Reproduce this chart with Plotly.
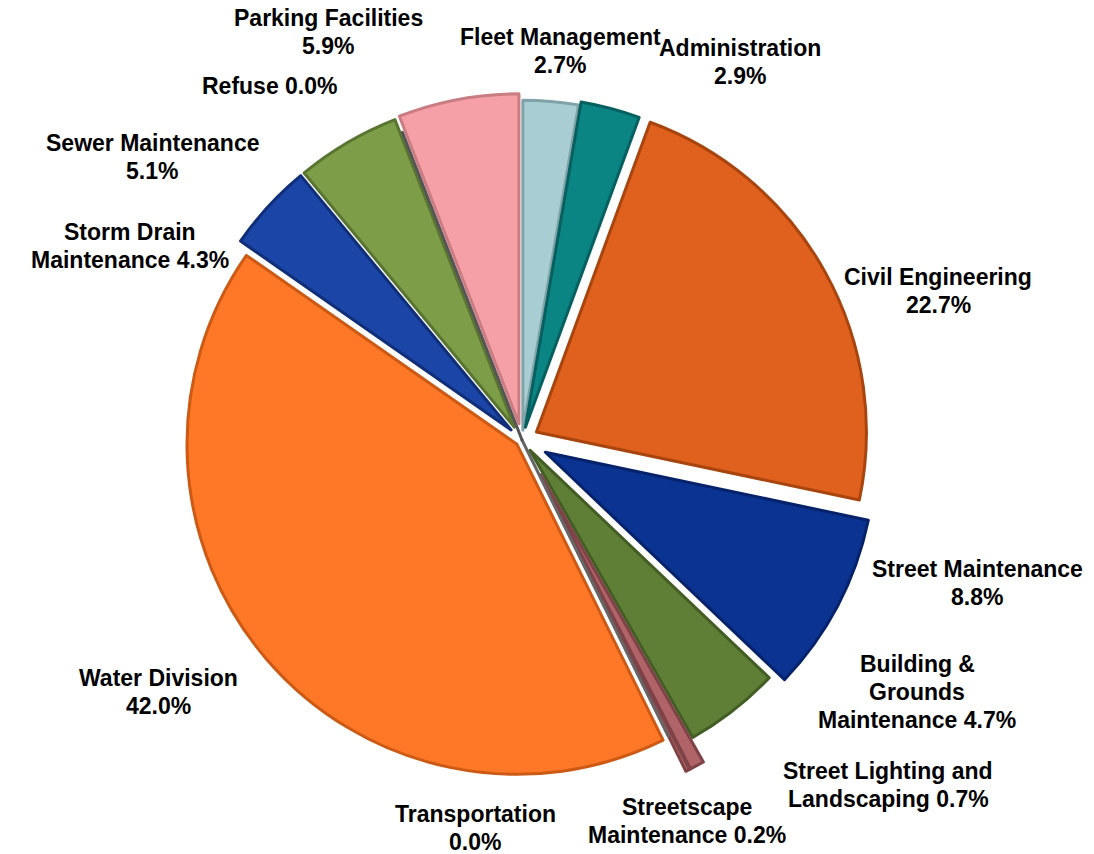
import plotly.graph_objects as go

# Department budget shares (percent), clockwise from 12 o'clock
departments = [
    "Fleet Management", "Administration", "Civil Engineering", "Street Maintenance",
    "Building & Grounds Maintenance", "Street Lighting and Landscaping",
    "Streetscape Maintenance", "Transportation", "Water Division",
    "Storm Drain Maintenance", "Sewer Maintenance", "Refuse", "Parking Facilities",
]
shares = [2.7, 2.9, 22.7, 8.8, 4.7, 0.7, 0.2, 0.0, 42.0, 4.3, 5.1, 0.0, 5.9]

# How each label is broken over lines (the value follows the last piece)
label_lines = [
    ["Fleet Management", ""], ["Administration", ""], ["Civil Engineering", ""],
    ["Street Maintenance", ""], ["Building &", "Grounds", "Maintenance "],
    ["Street Lighting and", "Landscaping "], ["Streetscape", "Maintenance "],
    ["Transportation", ""], ["Water Division", ""], ["Storm Drain", "Maintenance "],
    ["Sewer Maintenance", ""], ["Refuse "], ["Parking Facilities", ""],
]

colors = [
    "#a8cdd2", "#0b8584", "#e0601e", "#0b3391", "#5f7f37", "#b06468",
    "#b06468", "#888888", "#ff7828", "#1b45a6", "#7d9d48", "#777777", "#f5a0a6",
]
edge_colors = [
    "#7fa3a8", "#05605f", "#a8450f", "#06226a", "#435d24", "#7e4247",
    "#7e4247", "#666666", "#cc5a14", "#102f78", "#5a7532", "#555555", "#c97c82",
]
pulls = [0.03, 0.04, 0.05, 0.08, 0.04, 0.12, 0.12, 0.0, 0.02, 0.045, 0.045, 0.0, 0.05]

# Label block centres in page pixels
label_xy = [
    (560, 51), (740, 62), (938, 291), (977, 583), (917, 692), (888, 785),
    (687, 821), (475, 828), (158, 692), (130, 246), (152, 157), (270, 86), (328, 32),
]
LINE_GAP = 28

W, H = 1094, 854
cx, cy = 522, 440
R = 330 * (1 + max(pulls))
domain = dict(x=[(cx - R) / W, (cx + R) / W], y=[(H - cy - R) / H, (H - cy + R) / H])

fig = go.Figure()
fig.add_trace(go.Pie(
    labels=departments, values=shares, sort=False, direction="clockwise",
    rotation=0, pull=pulls, textinfo="none", hoverinfo="label+percent",
    marker=dict(colors=colors, line=dict(color=edge_colors, width=3)),
    domain=domain, showlegend=False,
))

for lines, val, (lx, ly) in zip(label_lines, shares, label_xy):
    lines = lines[:-1] + [f"{lines[-1]}{val:.1f}%"]
    top = ly - LINE_GAP * (len(lines) - 1) / 2
    for i, line in enumerate(lines):
        fig.add_annotation(
            x=lx / W, y=1 - (top + i * LINE_GAP) / H, xref="paper", yref="paper",
            text=f"<b>{line}</b>", showarrow=False,
            xanchor="center", yanchor="middle", align="center",
            font=dict(family="Liberation Sans, Arial, sans-serif", size=23, color="black"),
        )

fig.update_layout(
    width=W, height=H,
    margin=dict(l=0, r=0, t=0, b=0),
    paper_bgcolor="white", plot_bgcolor="white",
)

fig.write_html("out.html")
